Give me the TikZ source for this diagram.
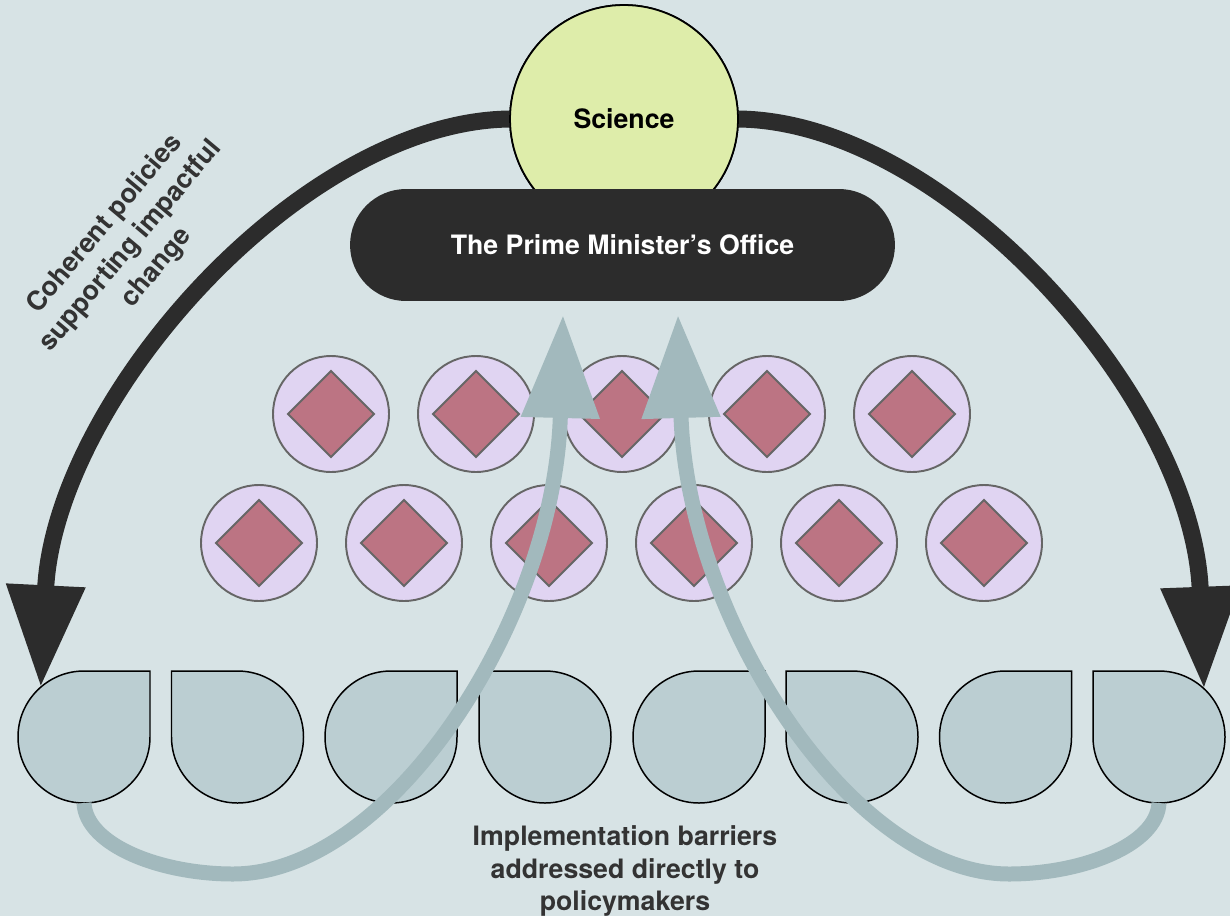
\documentclass[tikz,border=0pt]{standalone}
\usepackage{fontspec}
\setmainfont{TeX Gyre Heros}
\usetikzlibrary{arrows.meta,shapes.geometric,calc}
\definecolor{bg}{HTML}{D7E3E5}
\definecolor{tearfill}{HTML}{BBCED2}
\definecolor{garrow}{HTML}{A2B9BD}
\definecolor{purp}{HTML}{E0D4F2}
\definecolor{pstroke}{HTML}{666666}
\definecolor{dia}{HTML}{BC7483}
\definecolor{scifill}{HTML}{DEEDAA}
\definecolor{dark}{HTML}{2C2C2C}
\definecolor{txt}{HTML}{333333}
\newcommand\dgfont{\fontsize{15.2}{18.2}\selectfont\bfseries}
\newcommand\tearR[1]{\draw[tear] ($(#1)+(0,-66)$) -- ++(66,0) -- ++(0,66) arc[start angle=0,end angle=270,radius=66] -- cycle;}
\newcommand\tearL[1]{\draw[tear] ($(#1)+(-66,0)$) -- ++(0,-66) -- ++(66,0) arc[start angle=-90,end angle=180,radius=66] -- cycle;}
\begin{document}
\begin{tikzpicture}[x=0.02cm,y=-0.02cm,
  tear/.style={fill=tearfill,draw=black,line width=0.85pt},
  anchorcirc/.style={circle,minimum size=2.64cm,inner sep=0pt,outer sep=0pt},
  pcirc/.style={circle,minimum size=2.32cm,inner sep=0pt,fill=purp,draw=pstroke,line width=1.1pt},
  pdia/.style={diamond,minimum width=1.74cm,minimum height=1.74cm,inner sep=0pt,fill=dia,draw=pstroke,line width=1.1pt},
  blackarr/.style={draw=dark,line width=0.34cm,-{Triangle[length=2.04cm,width=1.5cm]}},
  greyarr/.style={draw=garrow,line width=0.3cm,-{Triangle[length=2.06cm,width=1.5cm]}}]
\fill[bg] (0,0) rectangle (1230,916);
\useasboundingbox (0,0) rectangle (1230,916);
% teardrop anchors
\foreach \x [count=\i] in {84,237.5,391,545,699,852,1005.5,1159} {
  \node[anchorcirc] (d\i) at (\x,737) {};
}
\tearR{d1}\tearL{d2}\tearR{d3}\tearL{d4}\tearR{d5}\tearL{d6}\tearR{d7}\tearL{d8}
% science and PM office
\node[circle,minimum size=4.56cm,inner sep=0pt,fill=scifill,draw=black,line width=1pt,font=\dgfont] (sci) at (624,119) {};
\draw[blackarr] (sci.180) .. controls (300,122) and (55,400) .. (d1.131);
\draw[blackarr] (sci.0) .. controls (948,122) and (1193,400) .. (d8.47);
\node[circle,minimum size=4.56cm,inner sep=0pt,fill=scifill,draw=black,line width=1pt,font=\dgfont] (sci2) at (sci) {Science};
\node[rectangle,rounded corners=1.12cm,minimum width=10.9cm,minimum height=2.24cm,fill=dark,text=white,font=\dgfont] (pm) at (622.5,245) {The Prime Minister’s Office};
% purple circles
\foreach \x [count=\i] in {331,476,622,767,912} {
  \node[pcirc] (pa\i) at (\x,414) {};
  \node[pdia] (qa\i) at (pa\i) {};
}
\foreach \x [count=\i] in {259,404,549,694,839,984} {
  \node[pcirc] (pb\i) at (\x,543) {};
  \node[pdia] (qb\i) at (pb\i) {};
}
% grey arrows
\coordinate (tipL) at (563,315);
\coordinate (tipR) at (678,315);
\draw[greyarr] (d1.south) .. controls (86,845) and (160,874) .. (233,874) .. controls (390,874) and (555,620) .. (tipL);
\draw[greyarr] (d8.south) .. controls (1157,845) and (1082,874) .. (1009,874) .. controls (852,874) and (687,620) .. (tipR);
% labels
\node[rotate=50,align=center,text=txt,font=\fontsize{15.2}{19.2}\selectfont\bfseries] (lblL) at (131,246) {Coherent policies\\supporting impactful\\change};
\node[align=center,text=txt,font=\fontsize{15.2}{18.7}\selectfont\bfseries] (lblB) at (625,871) {Implementation barriers\\addressed directly to\\policymakers};
\end{tikzpicture}
\end{document}
